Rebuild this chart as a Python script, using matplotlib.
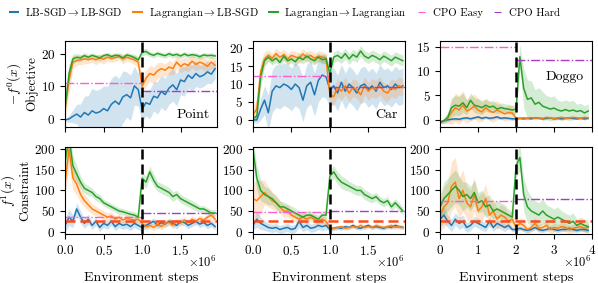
import numpy as np
import matplotlib
matplotlib.use("Agg")
import matplotlib.pyplot as plt
from matplotlib.lines import Line2D

plt.rcParams['font.family'] = 'serif'
plt.rcParams['font.serif'] = ['cmr10']
plt.rcParams['mathtext.fontset'] = 'cm'
plt.rcParams['axes.formatter.use_mathtext'] = True
plt.rcParams['font.size'] = 9.5

# ---- x grids (40 evaluations per run) ----
steps_short = np.arange(40) * 0.05e6   # Point, Car
steps_long = np.arange(40) * 0.1e6     # Doggo

# ---- Point: objective ----
point_obj_blue = [-0.3, 0, 0.8, 1.5, 0.6, 2, 1.2, 2.5, 1.8, 2.2, 3.2, 2.5, 4.5, 5.5, 4.5, 6.8, 7.5, 6.5, 10.2, 9,
                  3, 5, 4.5, 7, 6.5, 8.5, 7.5, 9.5, 10.5, 9, 12, 11.5, 13.5, 12.5, 14, 13, 13.5, 14.5, 13.8, 15.5]
point_obj_blue_sd = [0.5, 1, 2, 3, 4, 5, 6, 7, 7, 7, 7, 7.5, 8, 8, 8, 8, 7, 7, 6, 5,
                     4, 4, 4.5, 4.5, 5, 5, 5, 5, 5, 5, 4.5, 4.5, 4, 4, 4, 3.5, 3.5, 3.5, 3, 3]
point_obj_orange = [3, 12, 17.5, 18, 18.2, 18.5, 18.3, 18.6, 18.2, 18.8, 18.4, 19, 18.6, 18.9, 19.2, 18.5, 19, 18.6, 18.2, 17.5,
                    10, 12.5, 14, 13.5, 14.8, 15.5, 15, 16, 15.5, 17.5, 16.2, 17, 16.5, 17.8, 16.8, 17.5, 17, 16.2, 17.5, 16.5]
point_obj_orange_sd = [3, 4, 2, 1.5, 1.5, 1.5, 1.2, 1.2, 1.5, 1.2, 1.5, 1.2, 1.2, 1.2, 1, 1.5, 1.2, 1.2, 1.5, 1.5,
                       2.5, 2.5, 2.5, 2.5, 2.5, 2, 2, 2, 2, 2, 2, 2, 2, 2, 2, 2, 2, 2, 2, 2]
point_obj_green = [4, 14, 18.5, 19, 18.8, 19.5, 19, 19.6, 19.2, 18.8, 19.5, 19.8, 19.2, 19.6, 19.5, 18.8, 19.7, 19.4, 18.9, 18.2,
                   20.5, 20.8, 20, 19.6, 20.2, 19.8, 19.5, 20.1, 19.6, 19.9, 19.4, 20, 19.5, 19.8, 19.6, 19.2, 19.7, 19.5, 19.6, 19.4]
point_obj_green_sd = [1.5, 3, 1.5, 1.2, 1, 1, 1, 0.8, 0.8, 1, 0.8, 0.8, 0.8, 0.8, 0.8, 1, 0.8, 0.8, 1, 1,
                      1, 1, 0.8, 0.8, 0.8, 0.8, 0.8, 0.8, 0.8, 0.8, 0.8, 0.8, 0.8, 0.8, 0.8, 0.8, 0.8, 0.8, 0.8, 0.8]

# ---- Car: objective ----
car_obj_blue = [0, 0, 3, 5.5, 2, 8, 9.5, 9, 10, 9.5, 8.5, 10, 9, 5.5, 9.5, 10.5, 7, 11, 12.5, 12,
                8.5, 9.5, 7.5, 10.5, 8, 10, 9, 7.5, 9.5, 10, 8.5, 9.5, 8, 10.5, 9, 9.5, 8.5, 10, 9, 9.5]
car_obj_blue_sd = [0.5, 1, 3, 4, 5, 6, 6, 6, 6, 6, 6, 6, 6, 6, 6, 6, 6, 6, 6, 6,
                   5, 5, 5, 5, 5, 5, 5, 5, 5, 5, 5, 5, 5, 5, 5, 5, 5, 5, 5, 5]
car_obj_orange = [1.5, 3, 13.5, 17, 18, 17.2, 18.5, 17.5, 18.2, 17, 18, 17.6, 17.2, 18.4, 17.5, 18, 17.2, 17.8, 17.5, 17.2,
                  7, 6.5, 9, 8, 9.5, 7.5, 9, 8.5, 7, 9.5, 8, 9, 8.5, 9.5, 8, 7.5, 9, 8.5, 9.5, 9]
car_obj_orange_sd = [1.5, 3, 3, 2, 1.5, 1.5, 1.5, 1.5, 1.5, 1.5, 1.5, 1.5, 1.5, 1.5, 1.5, 1.5, 1.5, 1.5, 1.5, 1.5,
                     2.5, 2.5, 2.5, 2.5, 2.5, 2.5, 2.5, 2.5, 2.5, 2.5, 2.5, 2.5, 2.5, 2.5, 2.5, 2.5, 2.5, 2.5, 2.5, 2.5]
car_obj_green = [0.5, 1, 12, 16.5, 17.5, 16.5, 17.2, 16, 17.8, 16.5, 17, 16.2, 17.5, 16.8, 17.8, 17, 16.5, 17.5, 16.8, 17,
                 13, 17.5, 18, 17.2, 18.5, 17, 18.2, 17.5, 19.2, 17.8, 17.2, 18, 17.5, 16.8, 17.8, 17.2, 16.5, 17.5, 17, 16.5]
car_obj_green_sd = [0.5, 1, 3, 1.5, 1.2, 1.2, 1.2, 1.2, 1.2, 1.2, 1.2, 1.2, 1.2, 1.2, 1.2, 1.2, 1.2, 1.2, 1.2, 1.2,
                    2, 1.5, 1.5, 1.5, 1.5, 1.5, 1.5, 1.5, 1.5, 1.5, 1.5, 1.5, 1.5, 1.5, 1.5, 1.5, 1.5, 1.5, 1.5, 1.5]

# ---- Doggo: objective ----
doggo_obj_blue = [-0.5, -0.2, 0, 0.1, 0.2, 0.1, 0.3, 0.4, 0.2, 0.4, 0.6, 0.3, 0.5, 0.3, 0.4, 0.6, 0.3, 0.4, 0.3, 0.2,
                  0.2, 0.3, 0.2, 0.3, 0.2, 0.4, 0.3, 0.2, 0.3, 0.4, 0.2, 0.3, 0.2, 0.3, 0.4, 0.3, 0.2, 0.3, 0.2, 0.3]
doggo_obj_blue_sd = [0.3, 0.3, 0.3, 0.3, 0.3, 0.3, 0.3, 0.3, 0.3, 0.3, 0.3, 0.3, 0.3, 0.3, 0.3, 0.3, 0.3, 0.3, 0.3, 0.3,
                     0.2, 0.2, 0.2, 0.2, 0.2, 0.2, 0.2, 0.2, 0.2, 0.2, 0.2, 0.2, 0.2, 0.2, 0.2, 0.2, 0.2, 0.2, 0.2, 0.2]
doggo_obj_orange = [-0.5, -0.2, 0.3, 1.5, 2.5, 2, 3, 1.8, 2.2, 2.8, 2, 1.6, 2.5, 1.8, 1.5, 2, 1.6, 1.2, 1.5, 1.4,
                    0.3, 0.3, 0.4, 0.3, 0.5, 0.3, 0.4, 0.3, 0.5, 0.4, 0.3, 0.4, 0.5, 0.3, 0.4, 0.5, 0.4, 0.3, 0.5, 0.4]
doggo_obj_orange_sd = [0.3, 0.5, 1, 2.5, 3, 3, 3, 2.5, 2.5, 2.5, 2.5, 2, 2, 2, 2, 2, 1.5, 1.5, 1.5, 1.5,
                       0.3, 0.3, 0.3, 0.3, 0.3, 0.3, 0.3, 0.3, 0.3, 0.3, 0.3, 0.3, 0.3, 0.3, 0.3, 0.3, 0.3, 0.3, 0.3, 0.3]
doggo_obj_green = [-0.5, -0.2, 0.5, 2.5, 3, 2.8, 3.5, 2.5, 4, 3, 2.8, 2.5, 3, 2.6, 2.8, 2.2, 2.5, 2.3, 2.2, 2,
                   2.2, 13, 6.5, 4.2, 4.5, 3.2, 3.6, 2.8, 2.5, 2.2, 2.4, 2, 1.8, 2.1, 1.8, 2, 1.7, 1.9, 1.4, 1.8]
doggo_obj_green_sd = [0.3, 0.5, 1, 2, 2, 2, 2, 1.5, 1.5, 1.5, 1.5, 1.5, 1.2, 1.2, 1.2, 1, 1, 1, 1, 1,
                      1, 2.5, 4, 4, 3.5, 3, 3, 3, 2.5, 2.5, 2.5, 2, 2, 2, 2, 2, 1.5, 1.5, 1.5, 1.5]

# ---- Point: constraint ----
point_con_blue = [15, 35, 25, 55, 35, 20, 30, 15, 25, 10, 20, 15, 25, 12, 20, 15, 18, 12, 20, 15,
                  10, 15, 20, 25, 15, 22, 18, 25, 20, 15, 25, 22, 15, 20, 25, 18, 22, 15, 20, 12]
point_con_blue_sd = [15, 20, 15, 15, 15, 12, 12, 10, 10, 10, 10, 10, 10, 10, 10, 10, 10, 10, 10, 10,
                     8, 8, 8, 8, 8, 8, 8, 8, 8, 8, 8, 8, 8, 8, 8, 8, 8, 8, 8, 8]
point_con_orange = [120, 200, 130, 115, 90, 75, 65, 55, 50, 45, 40, 35, 38, 30, 35, 28, 32, 30, 28, 30,
                    20, 12, 15, 10, 18, 12, 20, 22, 15, 25, 20, 28, 22, 30, 25, 32, 28, 35, 40, 30]
point_con_orange_sd = [30, 40, 30, 25, 20, 15, 15, 12, 12, 10, 10, 10, 10, 8, 8, 8, 8, 8, 8, 8,
                       8, 8, 8, 8, 8, 8, 8, 8, 8, 8, 8, 8, 8, 8, 8, 8, 8, 8, 10, 10]
point_con_green = [170, 230, 160, 140, 120, 105, 100, 95, 85, 80, 70, 65, 60, 55, 50, 48, 45, 42, 40, 35,
                   130, 120, 145, 125, 110, 105, 100, 95, 85, 90, 80, 75, 70, 65, 60, 55, 55, 50, 45, 45]
point_con_green_sd = [30, 30, 25, 20, 15, 12, 12, 10, 10, 10, 8, 8, 8, 8, 8, 8, 8, 8, 8, 8,
                      15, 15, 15, 15, 12, 12, 12, 12, 12, 10, 10, 10, 10, 10, 10, 8, 8, 8, 8, 8]

# ---- Car: constraint ----
car_con_blue = [15, 30, 20, 15, 10, 8, 10, 5, 8, 10, 5, 8, 25, 10, 15, 8, 10, 15, 12, 15,
                5, 8, 10, 8, 12, 10, 15, 10, 8, 12, 15, 10, 12, 10, 8, 12, 10, 15, 12, 10]
car_con_blue_sd = [10, 20, 15, 12, 10, 10, 10, 10, 10, 10, 10, 10, 15, 10, 10, 10, 10, 10, 10, 10,
                   5, 5, 5, 5, 5, 5, 5, 5, 5, 5, 5, 5, 5, 5, 5, 5, 5, 5, 5, 5]
car_con_orange = [80, 75, 85, 95, 85, 75, 70, 60, 50, 50, 40, 35, 30, 35, 30, 35, 30, 25, 30, 25,
                  10, 8, 10, 12, 8, 10, 12, 10, 15, 10, 12, 10, 15, 12, 10, 12, 15, 10, 12, 10]
car_con_orange_sd = [40, 50, 40, 30, 25, 20, 20, 15, 15, 15, 12, 12, 12, 12, 10, 10, 10, 10, 10, 10,
                     5, 5, 5, 5, 5, 5, 5, 5, 5, 5, 5, 5, 5, 5, 5, 5, 5, 5, 5, 5]
car_con_green = [200, 130, 100, 90, 85, 80, 70, 60, 60, 55, 50, 45, 40, 35, 40, 40, 35, 30, 40, 40,
                 135, 145, 130, 120, 115, 110, 105, 100, 100, 90, 85, 80, 85, 75, 70, 75, 60, 70, 60, 50]
car_con_green_sd = [30, 30, 25, 20, 20, 15, 15, 15, 12, 12, 12, 12, 10, 10, 10, 10, 10, 10, 10, 10,
                    15, 15, 15, 15, 15, 12, 12, 12, 12, 12, 12, 10, 10, 10, 10, 10, 10, 10, 10, 10]

# ---- Doggo: constraint ----
doggo_con_blue = [30, 40, 25, 15, 30, 20, 25, 10, 15, 25, 20, 15, 10, 25, 10, 20, 15, 10, 15, 5,
                  5, 8, 5, 3, 5, 10, 5, 3, 5, 8, 5, 3, 5, 5, 8, 5, 3, 5, 5, 3]
doggo_con_blue_sd = [20, 20, 15, 15, 15, 15, 15, 12, 12, 12, 12, 12, 10, 10, 10, 10, 10, 10, 8, 5,
                     5, 5, 5, 5, 5, 5, 5, 5, 5, 5, 5, 5, 5, 5, 5, 5, 5, 5, 5, 5]
doggo_con_orange = [40, 60, 70, 110, 120, 80, 100, 70, 60, 90, 50, 60, 80, 40, 50, 30, 40, 35, 25, 30,
                    10, 20, 15, 5, 10, 20, 8, 10, 15, 5, 10, 8, 12, 10, 5, 8, 10, 12, 8, 10]
doggo_con_orange_sd = [40, 50, 50, 60, 60, 50, 50, 40, 40, 40, 35, 35, 35, 30, 30, 25, 25, 25, 20, 20,
                       10, 15, 15, 10, 10, 15, 10, 10, 10, 10, 10, 10, 10, 10, 10, 10, 10, 10, 10, 10]
doggo_con_green = [60, 80, 90, 100, 110, 100, 85, 90, 80, 95, 70, 75, 60, 65, 50, 55, 50, 45, 40, 35,
                   160, 180, 90, 60, 50, 45, 40, 50, 40, 35, 30, 35, 30, 25, 20, 25, 15, 20, 15, 12]
doggo_con_green_sd = [30, 40, 40, 40, 40, 35, 35, 30, 30, 30, 25, 25, 25, 25, 20, 20, 20, 20, 15, 15,
                      30, 30, 40, 40, 35, 30, 30, 30, 25, 25, 25, 25, 20, 20, 20, 20, 15, 15, 15, 15]

# ---- CPO reference levels (easy before switch, hard after) ----
cpo_easy_obj = [11, 12.2, 15]
cpo_hard_obj = [8.7, 9.2, 12.3]
cpo_easy_con = [35, 47, 75]
cpo_hard_con = [45, 50, 80]
threshold = 25
env_names = ['Point', 'Car', 'Doggo']
xticks_short = [0, 0.5e6, 1e6, 1.5e6]
xticks_long = [0, 1e6, 2e6, 3e6, 4e6]

C_BLUE, C_ORANGE, C_GREEN = '#1f77b4', '#ff7f0e', '#2ca02c'
C_EASY, C_HARD = '#ff5ccd', '#a83cc8'
C_THR = '#ff4a1a'

fig = plt.figure(figsize=(5.98, 2.83), dpi=100)
lefts = [0.109, 0.423, 0.736]
w = 0.254
top_b, top_h = 0.551, 0.304
bot_b, bot_h = 0.173, 0.307

obj_data = [
    (point_obj_blue, point_obj_blue_sd, point_obj_orange, point_obj_orange_sd, point_obj_green, point_obj_green_sd),
    (car_obj_blue, car_obj_blue_sd, car_obj_orange, car_obj_orange_sd, car_obj_green, car_obj_green_sd),
    (doggo_obj_blue, doggo_obj_blue_sd, doggo_obj_orange, doggo_obj_orange_sd, doggo_obj_green, doggo_obj_green_sd),
]
con_data = [
    (point_con_blue, point_con_blue_sd, point_con_orange, point_con_orange_sd, point_con_green, point_con_green_sd),
    (car_con_blue, car_con_blue_sd, car_con_orange, car_con_orange_sd, car_con_green, car_con_green_sd),
    (doggo_con_blue, doggo_con_blue_sd, doggo_con_orange, doggo_con_orange_sd, doggo_con_green, doggo_con_green_sd),
]
obj_ylims = [(-2.5, 24), (-2, 22), (-1.5, 16.2)]
obj_yticks = [[0, 10, 20], [0, 5, 10, 15, 20], [0, 5, 10, 15]]


def draw_series(ax, x, vals):
    for i, c in enumerate([C_BLUE, C_ORANGE, C_GREEN]):
        m = np.array(vals[2 * i], dtype=float)
        s = np.array(vals[2 * i + 1], dtype=float)
        ax.fill_between(x, m - s, m + s, color=c, alpha=0.2, lw=0)
        ax.plot(x, m, color=c, lw=1.1)


for k in range(3):
    x = steps_long if k == 2 else steps_short
    switch = 2e6 if k == 2 else 1e6
    xmax = 4e6 if k == 2 else 1.975e6

    ax_t = fig.add_axes([lefts[k], top_b, w, top_h])
    ax_b = fig.add_axes([lefts[k], bot_b, w, bot_h], sharex=ax_t)

    draw_series(ax_t, x, obj_data[k])
    ax_t.plot([0, switch], [cpo_easy_obj[k]] * 2, color=C_EASY, lw=1.0, ls='-.')
    ax_t.plot([switch, xmax], [cpo_hard_obj[k]] * 2, color=C_HARD, lw=1.0, ls='-.')
    ax_t.axvline(switch, color='k', lw=1.8, ls=(0, (4, 2)))
    ax_t.set_ylim(*obj_ylims[k])
    ax_t.set_yticks(obj_yticks[k])

    draw_series(ax_b, x, con_data[k])
    ax_b.plot([0, switch], [cpo_easy_con[k]] * 2, color=C_EASY, lw=1.0, ls='-.')
    ax_b.plot([switch, xmax], [cpo_hard_con[k]] * 2, color=C_HARD, lw=1.0, ls='-.')
    ax_b.axhline(threshold, color=C_THR, lw=1.8, ls=(0, (4, 2)))
    ax_b.axvline(switch, color='k', lw=1.8, ls=(0, (4, 2)))
    ax_b.set_ylim(-6, 205)
    ax_b.set_yticks([0, 50, 100, 150, 200])
    ax_b.set_xlim(0, xmax)
    ax_b.set_xticks(xticks_long if k == 2 else xticks_short)
    ax_b.ticklabel_format(axis='x', style='sci', scilimits=(6, 6))
    plt.setp(ax_t.get_xticklabels(), visible=False)
    ax_t.xaxis.get_offset_text().set_visible(False)
    ax_b.xaxis.get_offset_text().set_visible(False)
    ax_b.text(1.0, -0.245, r'$\times10^6$', transform=ax_b.transAxes, ha='right', va='top', fontsize=9)
    ax_b.set_xlabel('Environment steps', fontsize=10)
    ax_b.xaxis.set_label_coords(0.5, -0.43)

    if k == 2:
        ax_t.text(0.82, 0.58, env_names[k], transform=ax_t.transAxes, ha='center', va='center', fontsize=10)
    else:
        ax_t.text(0.95, 0.07, env_names[k], transform=ax_t.transAxes, ha='right', va='bottom', fontsize=10)

    if k == 0:
        ax_t.set_ylabel('$-f^0(x)$\nObjective', labelpad=2)
        ax_b.set_ylabel('$f^1(x)$\nConstraint', labelpad=2)

handles = [
    Line2D([], [], color=C_BLUE, lw=1.5),
    Line2D([], [], color=C_ORANGE, lw=1.5),
    Line2D([], [], color=C_GREEN, lw=1.5),
    Line2D([], [], color=C_EASY, lw=0.8, ls='-.'),
    Line2D([], [], color=C_HARD, lw=0.8, ls='-.'),
]
labels = ['LB-SGD$\\rightarrow$LB-SGD', 'Lagrangian$\\rightarrow$LB-SGD',
          'Lagrangian$\\rightarrow$Lagrangian', 'CPO Easy', 'CPO Hard']
fig.legend(handles, labels, loc='center left', bbox_to_anchor=(0.0, 0.955), ncol=5, frameon=False,
           handlelength=0.8, handletextpad=0.6, columnspacing=1.0, fontsize=7.8)

fig.savefig('out.png', dpi=100)
